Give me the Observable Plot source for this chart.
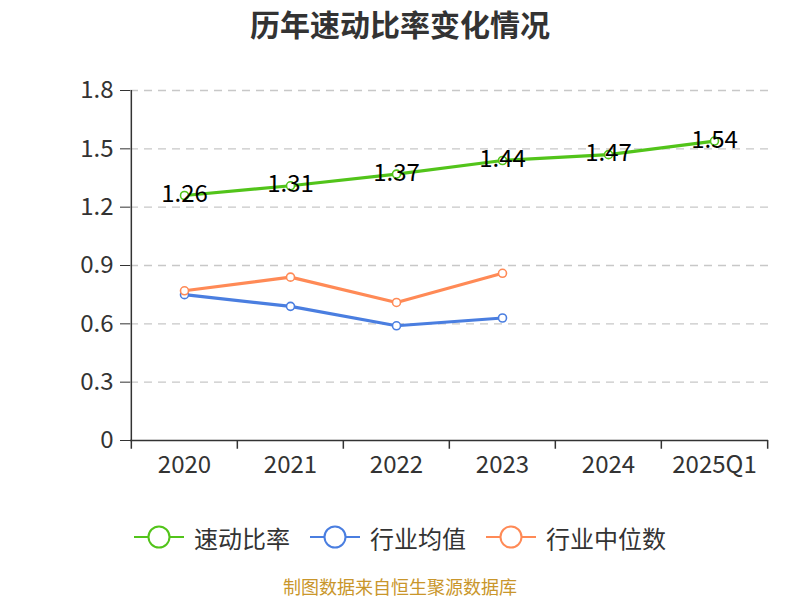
<!DOCTYPE html>
<html>
<head>
<meta charset="utf-8">
<script src="https://cdn.jsdelivr.net/npm/d3@7"></script>
<script src="https://cdn.jsdelivr.net/npm/@observablehq/plot@0.6"></script>
<style>
  body { margin: 0; background: #fff; font-family: "Noto Sans CJK SC", "Noto Sans", sans-serif; }
  #wrap { width: 800px; height: 600px; position: relative; overflow: hidden; }
  #title { height: 50px; line-height: 46px; text-align: center; font-size: 30px; font-weight: bold; color: #333; }
  #chart { height: 450px; }
  #legend { display: flex; justify-content: center; align-items: center; height: 74px; font-size: 24px; color: #333; }
  .item { display: flex; align-items: center; margin: 0 10px; }
  .item svg { margin-right: 10px; }
  #caption { position: absolute; left: 0; width: 800px; top: 573px; text-align: center; font-size: 18px; line-height: 26px; height: 26px; color: #c9962b; }
</style>
</head>
<body>
<div id="wrap">
  <div id="title">历年速动比率变化情况</div>
  <div id="chart"></div>
  <div id="legend"></div>
  <div id="caption">制图数据来自恒生聚源数据库</div>
</div>
<script>
const categories = ["2020", "2021", "2022", "2023", "2024", "2025Q1"];
const quickRatio = [1.26, 1.31, 1.37, 1.44, 1.47, 1.54];
const industryMean = [0.75, 0.69, 0.59, 0.63];
const industryMedian = [0.77, 0.84, 0.71, 0.86];
const yTicks = [0, 0.3, 0.6, 0.9, 1.2, 1.5, 1.8];
const seriesNames = ["速动比率", "行业均值", "行业中位数"];
const colors = ["#52c41a", "#4a7ee0", "#ff8a56"];

const W = 800, H = 450, ML = 130, MR = 32, MT = 40, MB = 60;
const step = (W - ML - MR) / categories.length;
const tickDown = -0.045;

const toRows = (vals) => vals.map((v, i) => ({x: categories[i], y: v}));
const s0 = toRows(quickRatio), s1 = toRows(industryMean), s2 = toRows(industryMedian);

const plot = Plot.plot({
  width: W, height: H,
  marginLeft: ML, marginRight: MR, marginTop: MT, marginBottom: MB,
  style: {fontFamily: '"Noto Sans CJK SC", "Noto Sans", sans-serif', color: "#333", background: "white", overflow: "visible"},
  x: {type: "point", domain: categories, padding: 0.5, axis: null},
  y: {domain: [0, 1.8], axis: null},
  marks: [
    Plot.ruleY(yTicks.filter(d => d > 0), {stroke: "#c8c8c8", strokeWidth: 1.3, strokeDasharray: "8,6"}),
    Plot.ruleX([categories[0]], {dx: -step / 2, stroke: "#333", strokeWidth: 1.5}),
    Plot.ruleY([0], {stroke: "#333", strokeWidth: 1.5}),
    Plot.ruleX(categories, {x: d => d, dx: -step / 2, y1: 0, y2: tickDown, stroke: "#333", strokeWidth: 1.5}),
    Plot.ruleX([categories[categories.length - 1]], {dx: step / 2, y1: 0, y2: tickDown, stroke: "#333", strokeWidth: 1.5}),
    Plot.axisY(yTicks, {anchor: "left", label: null, tickSize: 10, tickPadding: 7, fontSize: 24, stroke: "#333",
      tickFormat: d => d === 0 ? "0" : d.toFixed(1)}),
    Plot.axisX(categories, {anchor: "bottom", label: null, tickSize: 0, tickPadding: 15, fontSize: 24}),
    Plot.line(s1, {x: "x", y: "y", stroke: colors[1], strokeWidth: 3.2}),
    Plot.line(s2, {x: "x", y: "y", stroke: colors[2], strokeWidth: 3.2}),
    Plot.line(s0, {x: "x", y: "y", stroke: colors[0], strokeWidth: 3.2}),
    Plot.dot(s1, {x: "x", y: "y", r: 4, fill: "white", stroke: colors[1], strokeWidth: 1.6}),
    Plot.dot(s2, {x: "x", y: "y", r: 4, fill: "white", stroke: colors[2], strokeWidth: 1.6}),
    Plot.dot(s0, {x: "x", y: "y", r: 4, fill: "white", stroke: colors[0], strokeWidth: 1.6}),
    Plot.text(s0, {x: "x", y: "y", text: d => d.y.toFixed(2), fontSize: 24, fill: "#000", dy: -1})
  ]
});
document.getElementById("chart").appendChild(plot);

const legend = document.getElementById("legend");
seriesNames.forEach((name, i) => {
  const item = document.createElement("div");
  item.className = "item";
  item.innerHTML = `<svg width="50" height="26"><line x1="0" y1="13" x2="50" y2="13" stroke="${colors[i]}" stroke-width="2"/><circle cx="25" cy="13" r="10.5" fill="white" stroke="${colors[i]}" stroke-width="2"/></svg><span>${name}</span>`;
  legend.appendChild(item);
});
</script>
</body>
</html>
